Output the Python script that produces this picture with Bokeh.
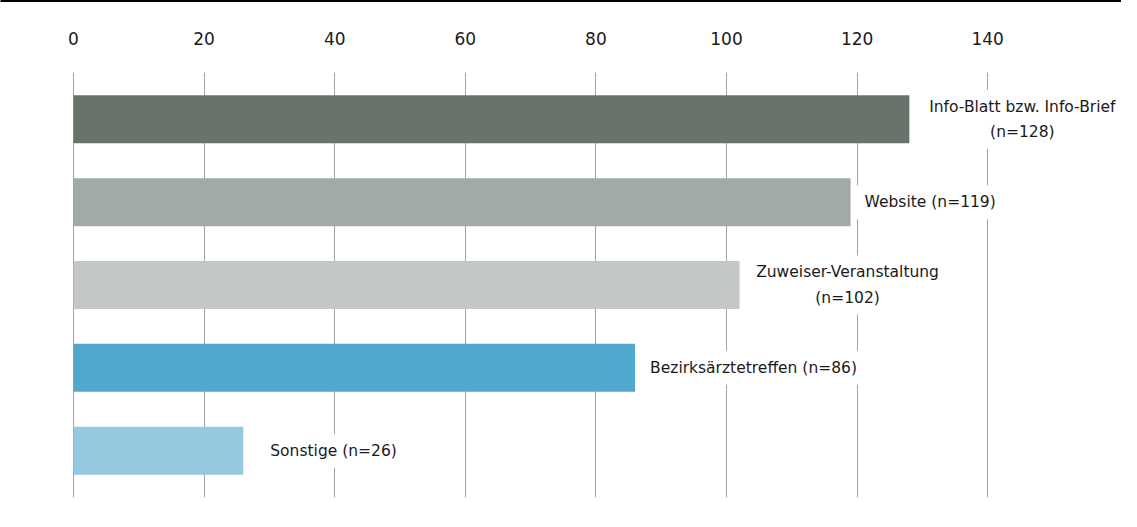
from bokeh.plotting import figure
from bokeh.models import ColumnDataSource, FactorRange, Range1d, LinearAxis, FixedTicker
from bokeh.embed import file_html
from bokeh.resources import INLINE
from bokeh.core.properties import value

# ---- data ----
categories = ["Info-Blatt bzw. Info-Brief", "Website", "Zuweiser-Veranstaltung",
              "Bezirksärztetreffen", "Sonstige"]
counts = [128, 119, 102, 86, 26]
label_texts = ["Info-Blatt bzw. Info-Brief\n(n=128)", "Website (n=119)",
               "Zuweiser-Veranstaltung\n(n=102)", "Bezirksärztetreffen (n=86)",
               "Sonstige (n=26)"]
x_ticks = [0, 20, 40, 60, 80, 100, 120, 140]

# ---- styling ----
bar_colors = ["#68746a", "#a2aaa5", "#c3c8c4", "#50a9cc", "#95c9df"]
label_align = ["center", "left", "center", "left", "left"]
label_xoff = [113, 6, 108, 7, 19]
FONT = "DejaVu Sans"

W, H = 1121, 511
px_per_unit = 6.53
x0_px = 73
x_start = -x0_px / px_per_unit
x_end = x_start + W / px_per_unit

src = ColumnDataSource(dict(cat=categories, count=counts, label=label_texts,
                            color=bar_colors, align=label_align, xoff=label_xoff))

p = figure(width=W, height=H,
           x_range=Range1d(x_start, x_end),
           y_range=FactorRange(factors=list(reversed(categories)),
                               range_padding=0.065, range_padding_units="absolute"),
           x_axis_location="above", y_axis_location=None,
           output_backend="svg", toolbar_location=None,
           min_border_left=0, min_border_right=0, min_border_top=0, min_border_bottom=14)
p.outline_line_color = None
p.background_fill_color = "white"
p.border_fill_color = "white"

ax = p.xaxis[0]
ax.ticker = FixedTicker(ticks=x_ticks)
ax.axis_line_color = None
ax.major_tick_line_color = None
ax.minor_tick_line_color = None
ax.major_tick_out = 0
ax.major_tick_in = 0
ax.minor_tick_out = 0
ax.minor_tick_in = 0
ax.major_label_text_font = FONT
ax.major_label_text_font_size = "17px"
ax.major_label_text_color = "#1a1a1a"
ax.major_label_standoff = 28
ax.axis_label = " "
ax.axis_label_text_font_size = "16px"
ax.axis_label_standoff = 8

black = LinearAxis(ticker=FixedTicker(ticks=[]), axis_line_color="black", axis_line_width=3,
                   major_tick_out=0, major_tick_in=0, minor_tick_out=0, minor_tick_in=0,
                   major_label_text_font_size="0px")
p.add_layout(black, "above")

p.xgrid.ticker = FixedTicker(ticks=x_ticks)
p.xgrid.grid_line_color = "#a3a3a3"
p.xgrid.grid_line_width = 1
p.ygrid.visible = False

p.hbar(y="cat", left=0, right="count", height=0.58, color="color", line_color=None, source=src)

p.text(x="count", y="cat", text="label", x_offset="xoff", text_align="align",
       text_baseline="middle", text_font=value(FONT), text_font_size="15.5px",
       text_color="#1a1a1a", text_line_height=1.4,
       background_fill_color="white", padding=8, source=src)

open("out.html", "w").write(file_html(p, INLINE))
